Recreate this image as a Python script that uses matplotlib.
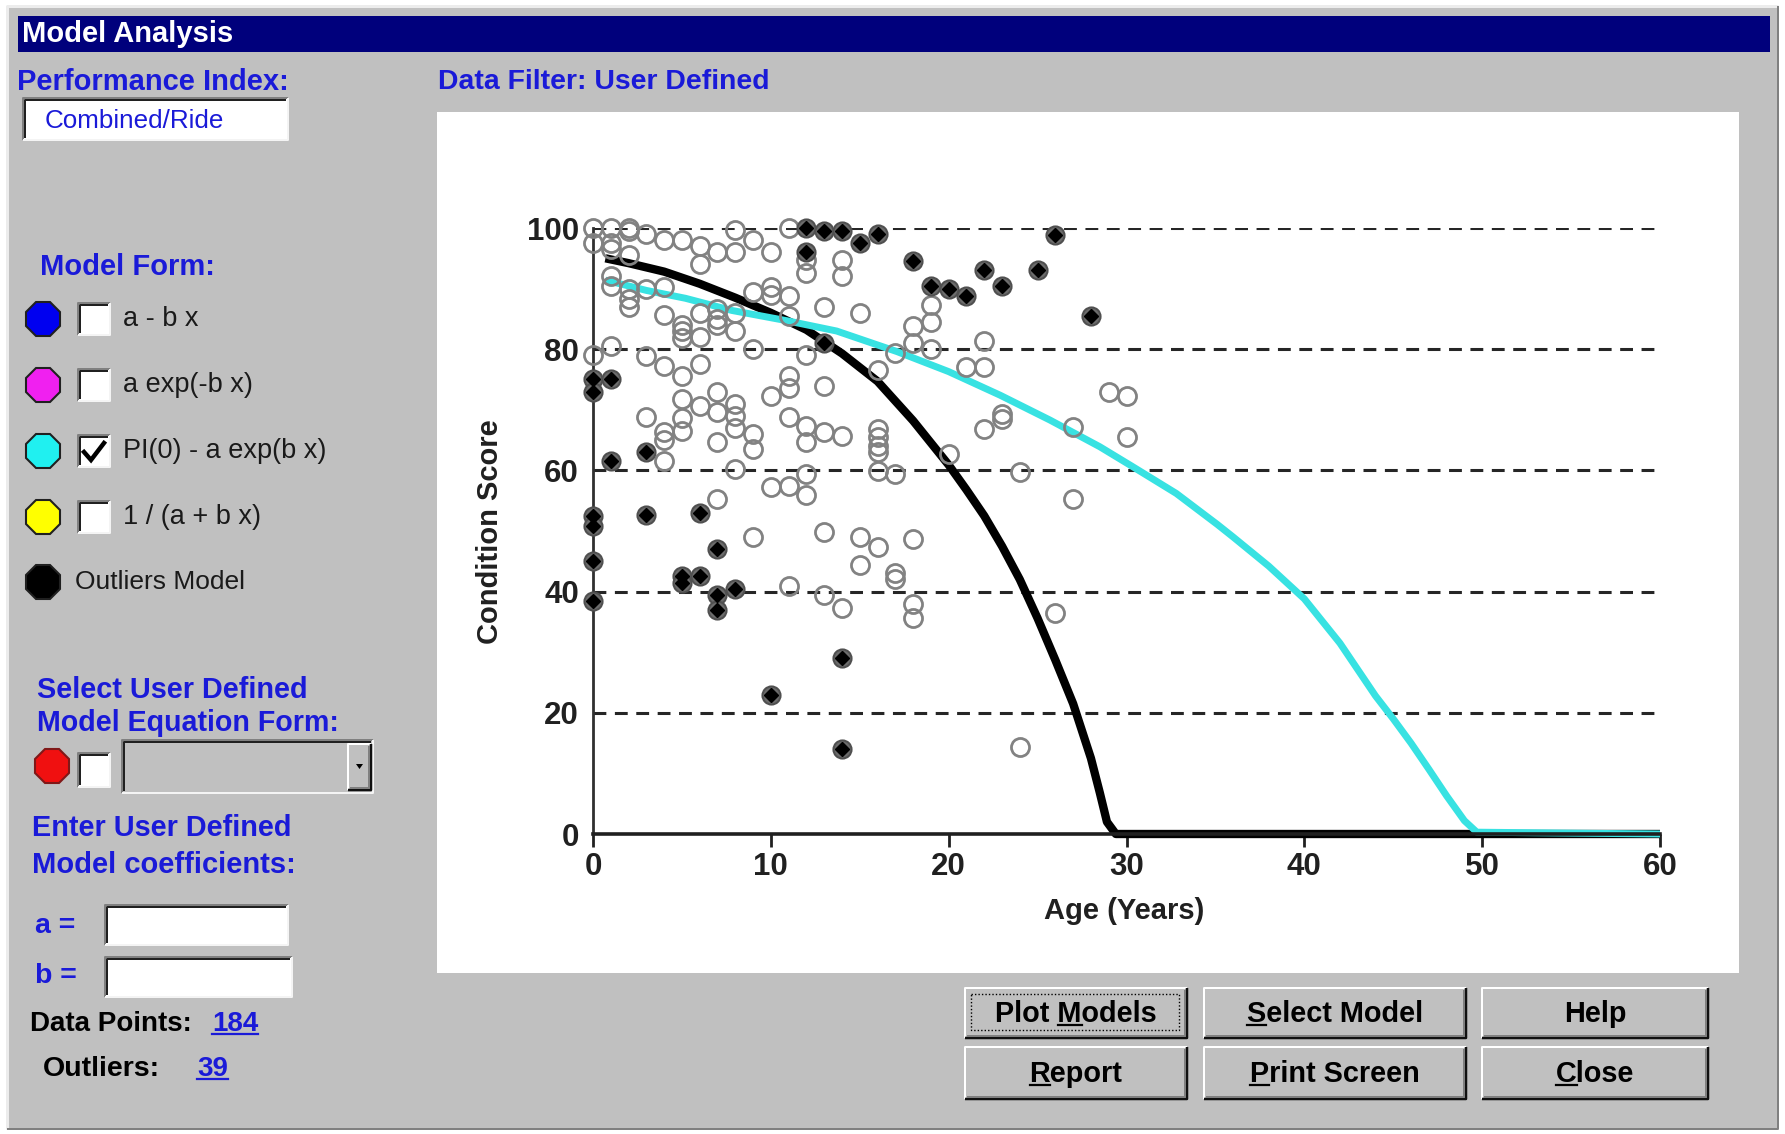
import matplotlib
matplotlib.use('Agg')
import matplotlib.pyplot as plt
from matplotlib.patches import Rectangle, Polygon

plt.rcParams['font.family'] = ['Liberation Sans', 'DejaVu Sans']

# ---------------- data ----------------
normal_x = [0, 0, 0,
            1, 1, 1, 1, 1, 1,
            2, 2, 2, 2, 2, 2,
            3, 3, 3, 3,
            4, 4, 4, 4, 4, 4, 4,
            5, 5, 5, 5, 5, 5, 5, 5,
            6, 6, 6, 6, 6, 6,
            7, 7, 7, 7, 7, 7, 7, 7,
            8, 8, 8, 8, 8, 8, 8, 8,
            9, 9, 9, 9, 9, 9,
            10, 10, 10, 10, 10,
            11, 11, 11, 11, 11, 11, 11, 11,
            12, 12, 12, 12, 12, 12, 12,
            13, 13, 13, 13, 13,
            14, 14, 14, 14,
            15, 15, 15,
            16, 16, 16, 16, 16, 16, 16,
            17, 17, 17, 17,
            18, 18, 18, 18, 18,
            19, 19, 19,
            20, 21, 22, 22, 22, 23, 23, 24, 24, 26, 27, 27, 29, 30, 30]
normal_y = [100, 97.5, 79,
            100, 97.5, 96.5, 92, 90.5, 80.5,
            100, 99.5, 95.5, 90, 88.3, 87,
            99, 90, 78.8, 68.8,
            98, 90.3, 85.6, 77.3, 66.3, 65, 61.5,
            98, 84, 83, 81.8, 75.6, 71.8, 68.7, 66.5,
            97, 94, 86, 82, 77.6, 70.6,
            96, 86.7, 85, 84, 73, 69.6, 64.7, 55.2,
            99.7, 96, 86, 83, 71, 69, 67, 60.2,
            98, 89.5, 80, 66, 63.5, 49,
            96, 90.3, 89, 72.3, 57.2,
            100, 88.7, 85.4, 75.5, 73.6, 68.8, 57.4, 41,
            94.7, 92.5, 79, 67.3, 64.7, 59.4, 56,
            87, 74, 66.3, 49.8, 39.5,
            94.7, 92, 65.7, 37.3,
            86, 49, 44.4,
            76.5, 66.8, 65.5, 64, 63, 59.9, 47.4,
            79.3, 59.4, 43, 42,
            83.8, 81, 48.6, 38, 35.6,
            87.3, 84.5, 80,
            62.7, 77, 81.4, 77, 66.8, 69.3, 68.5, 59.7, 14.3, 36.5, 67.1, 55.2, 73, 72.3, 65.5]

outlier_x = [12, 13, 14, 15, 16, 12, 13, 18, 19, 20, 21, 22, 23, 25, 26, 28,
             0, 0, 1, 1, 0, 0, 0, 0, 3, 3, 6, 5, 5, 6, 7, 7, 7, 8, 10, 14, 14]
outlier_y = [100, 99.5, 99.5, 97.5, 99, 96, 81, 94.5, 90.4, 90, 88.7, 93, 90.4, 93, 98.8, 85.4,
             75, 73, 75, 61.5, 52.5, 50.8, 45, 38.5, 63, 52.7, 53, 42.5, 41.5, 42.5, 47, 39.5, 37, 40.5, 23, 29, 14]

outlier_model_x = [0.7, 2, 4, 6, 8, 10, 12, 14, 16, 18, 20, 21, 22, 23, 24, 25, 26, 27, 28, 28.5, 28.9, 29.4, 60]
outlier_model_y = [95, 94.2, 92.8, 90.8, 88.5, 86.0, 83.2, 79.3, 74.7, 68.2, 60.9, 56.8, 52.5, 47.5, 42, 35.6, 28.7, 21.5, 12.5, 6.8, 2.0, 0, 0]

model_x = [0.7, 3, 5.2, 7.8, 10.9, 13.7, 17.1, 20, 22.9, 25.7, 28.5, 30.3, 32.8, 35.1, 36, 38, 40, 42, 44, 45, 46, 47, 48, 49, 49.7, 60]
model_y = [91.4, 89.7, 88.4, 86.4, 84.7, 83, 79.6, 76.3, 72.4, 68.3, 63.9, 60.7, 56.2, 51.1, 49, 44.2, 38.8, 31.5, 22.8, 19, 15, 10.7, 6.3, 2.2, 0.3, 0]

x_ticks = [0, 10, 20, 30, 40, 50, 60]
y_ticks = [0, 20, 40, 60, 80, 100]

legend_labels = ['a - b x', 'a exp(-b x)', 'PI(0) - a exp(b x)', '1 / (a + b x)']
legend_colors = ['#0000f0', '#f020f0', '#20f0f0', '#ffff00']
legend_checked = [False, False, True, False]

buttons_row1 = ['Plot Models', 'Select Model', 'Help']
buttons_row2 = ['Report', 'Print Screen', 'Close']
mnemonic_row1 = [5, 0, -1]
mnemonic_row2 = [0, 0, 0]

# ---------------- figure ----------------
W, H = 1785, 1134
fig = plt.figure(figsize=(W / 100, H / 100), dpi=100)
fig.patch.set_facecolor('white')
ui = fig.add_axes([0, 0, 1, 1])
ui.set_xlim(0, W)
ui.set_ylim(H, 0)
ui.axis('off')

GRAY = '#c0c0c0'
BLUE = '#1a1ad8'
PX = 0.72  # points per pixel


def seg(xs, ys, c, w=2):
    ui.plot(xs, ys, color=c, lw=w * PX, solid_capstyle='butt')


def sunken(x0, y0, x1, y1, fc='white'):
    ui.add_patch(Rectangle((x0, y0), x1 - x0, y1 - y0, fc=fc, ec='none'))
    seg([x0, x0, x1], [y1, y0, y0], '#808080', 2)
    seg([x0 + 2, x0 + 2, x1 - 2], [y1 - 2, y0 + 2, y0 + 2], '#202020', 2)
    seg([x0, x1, x1], [y1, y1, y0], '#f4f4f4', 2)


def raised(x0, y0, x1, y1):
    ui.add_patch(Rectangle((x0, y0), x1 - x0, y1 - y0, fc=GRAY, ec='none'))
    seg([x0, x0, x1], [y1, y0, y0], '#ffffff', 2)
    seg([x0, x1, x1], [y1, y1, y0], '#101010', 2.5)
    seg([x0 + 2, x1 - 2.5, x1 - 2.5], [y1 - 2.5, y1 - 2.5, y0 + 2], '#808080', 2)


# window
ui.add_patch(Rectangle((7, 6), 1771, 1123, fc=GRAY, ec='none'))
seg([7, 7, 1778], [1129, 6, 6], '#ececec', 3)
seg([7, 1778, 1778], [1129, 1129, 6], '#808080', 2)
# title bar
ui.add_patch(Rectangle((18, 16), 1752, 36, fc='#00007c', ec='none'))
ui.text(22, 34, 'Model Analysis', color='white', fontsize=21, fontweight='bold', va='center', ha='left')

# left panel texts
ui.text(17, 82, 'Performance Index:', color=BLUE, fontsize=21, fontweight='bold', va='center')
sunken(23, 98, 288, 140)
ui.text(45, 121, 'Combined/Ride', color=BLUE, fontsize=18.7, va='center')
ui.text(438, 82, 'Data Filter: User Defined', color=BLUE, fontsize=20.4, fontweight='bold', va='center')

ui.text(40, 267, 'Model Form:', color=BLUE, fontsize=21, fontweight='bold', va='center')
row_y = [319, 385, 451, 517]
for yy, lab, col, chk in zip(row_y, legend_labels, legend_colors, legend_checked):
    ui.plot([43], [yy], marker='8', ms=27, mfc=col, mec='#202020', mew=1.5)
    sunken(78, yy - 16, 110, yy + 16)
    if chk:
        ui.plot([84, 91, 104], [yy + 1, yy + 9, yy - 8], color='black', lw=3.2, solid_joinstyle='miter')
    ui.text(123, yy, lab, color='#1a1a1a', fontsize=19.5, va='center')
ui.plot([43], [582], marker='8', ms=27, mfc='black', mec='#202020', mew=1.5)
ui.text(75, 582, 'Outliers Model', color='#1a1a1a', fontsize=19, va='center')

ui.text(37, 690, 'Select User Defined', color=BLUE, fontsize=20.8, fontweight='bold', va='center')
ui.text(37, 723, 'Model Equation Form:', color=BLUE, fontsize=20.6, fontweight='bold', va='center')
ui.plot([52], [766], marker='8', ms=27, mfc='#f01010', mec='#801818', mew=1.5)
sunken(78, 753, 110, 787)
sunken(122, 740, 373, 793, fc=GRAY)
raised(348, 744, 371, 790)
ui.add_patch(Polygon([[356, 764], [363, 764], [359.5, 769]], closed=True, fc='black', ec='none'))

ui.text(32, 828, 'Enter User Defined', color=BLUE, fontsize=20.8, fontweight='bold', va='center')
ui.text(32, 865, 'Model coefficients:', color=BLUE, fontsize=21, fontweight='bold', va='center')
ui.text(35, 926, 'a =', color=BLUE, fontsize=20.5, fontweight='bold', va='center')
sunken(105, 905, 288, 945)
ui.text(35, 976, 'b =', color=BLUE, fontsize=20.5, fontweight='bold', va='center')
sunken(105, 957, 292, 997)

renderer = fig.canvas.get_renderer()


def width_of(s, **kw):
    t = ui.text(0, 0, s, **kw)
    w = t.get_window_extent(renderer).width
    t.remove()
    return w


def underlined(x, y, s, **kw):
    t = ui.text(x, y, s, **kw)
    bb = t.get_window_extent(renderer)
    uy = H - bb.y0 - 3
    ui.plot([bb.x0, bb.x1], [uy, uy], color=kw.get('color', 'black'), lw=1.6)


ui.text(30, 1024, 'Data Points:', color='black', fontsize=20, fontweight='bold', va='center')
underlined(212, 1024, '184', color=BLUE, fontsize=20, fontweight='bold', va='center')
ui.text(43, 1069, 'Outliers:', color='black', fontsize=20.5, fontweight='bold', va='center')
underlined(197, 1069, '39', color=BLUE, fontsize=20, fontweight='bold', va='center')

# buttons
bx = [(965, 1187), (1204, 1466), (1482, 1708)]
rows = [(988, 1038, buttons_row1, mnemonic_row1), (1047, 1099, buttons_row2, mnemonic_row2)]
BFS = 20.8
for (y0, y1, labels, mn) in rows:
    for (x0, x1), lab, m in zip(bx, labels, mn):
        raised(x0, y0, x1, y1)
        kw = dict(color='black', fontsize=BFS, fontweight='bold', va='center', ha='center')
        t = ui.text((x0 + x1) / 2, (y0 + y1) / 2 + 1, lab, **kw)
        if m >= 0:
            bb = t.get_window_extent(renderer)
            kw2 = dict(fontsize=BFS, fontweight='bold')
            cstart = bb.x0 + width_of(lab[:m + 1], **kw2) - width_of(lab[m], **kw2)
            cw = width_of(lab[m], **kw2)
            uy = H - bb.y0 - 3
            ui.plot([cstart, cstart + cw], [uy, uy], color='black', lw=1.6)
        if lab == 'Plot Models':
            ui.add_patch(Rectangle((x0 + 6, y0 + 6), x1 - x0 - 14, y1 - y0 - 14, fc='none',
                                   ec='black', lw=1, ls=(0, (1, 1.5))))

# plot panel
ui.add_patch(Rectangle((437, 112), 1739 - 437, 973 - 112, fc='white', ec='none'))

ax = fig.add_axes([593 / W, 1 - 834 / H, (1660 - 593) / W, (834 - 228) / H])
ax.patch.set_alpha(0)
ax.set_xlim(0, 60)
ax.set_ylim(0, 100)
for s in ['top', 'right']:
    ax.spines[s].set_visible(False)
ax.spines['left'].set_linewidth(2)
ax.spines['left'].set_color('#303030')
ax.spines['bottom'].set_linewidth(2.6)
ax.spines['bottom'].set_color('#202020')
ax.set_xticks(x_ticks)
ax.set_yticks(y_ticks)
ax.tick_params(axis='x', length=9, width=2, direction='out', pad=4, labelsize=22.5, colors='#202020')
ax.tick_params(axis='y', length=0, pad=10, labelsize=22.5, colors='#202020')
for lab in ax.get_xticklabels() + ax.get_yticklabels():
    lab.set_fontweight('bold')
for yv in y_ticks[1:]:
    ax.plot([0, 59.7], [yv, yv], color='#262626', lw=2.2, ls=(0, (4.2, 2.8)), zorder=1)

ax.plot(outlier_model_x, outlier_model_y, color='black', lw=6, zorder=2, clip_on=False,
        solid_capstyle='butt', solid_joinstyle='round')
ax.plot(model_x, model_y, color='#38e2e2', lw=5, zorder=2.5, clip_on=False,
        solid_capstyle='butt', solid_joinstyle='round')

ax.plot(normal_x, normal_y, 'o', ms=13, mfc='none', mec='#828282', mew=2.0, zorder=4, clip_on=False)
ax.plot(outlier_x, outlier_y, 'o', ms=13, mfc='#6c6c6c', mec='#505050', mew=1.5, zorder=5, clip_on=False)
ax.plot(outlier_x, outlier_y, 'D', ms=7.5, mfc='black', mec='black', zorder=6, clip_on=False)

ui.text(490, 532, 'Condition Score', rotation=90, fontsize=21, fontweight='bold', color='#202020',
        ha='center', va='center')
ui.text(1124, 911, 'Age (Years)', fontsize=21, fontweight='bold', color='#202020', ha='center', va='center')

fig.savefig('out.png', dpi=100, facecolor='white')
